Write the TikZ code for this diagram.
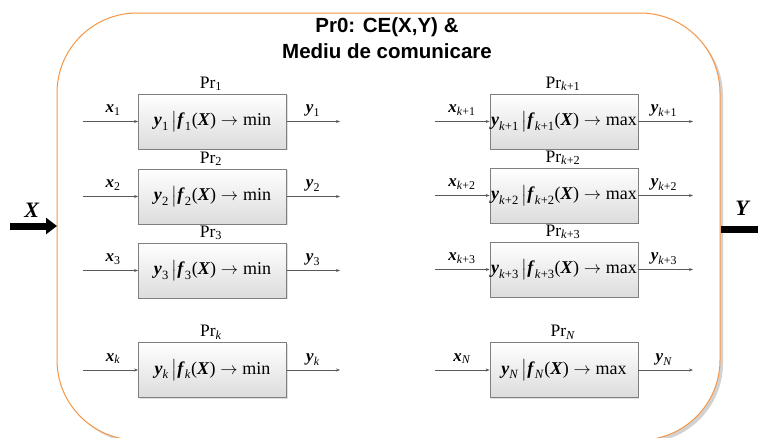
\documentclass[tikz,border=0pt]{standalone}
\usepackage{amsmath}
\usepackage{fontspec}
\setmainfont{Liberation Serif}
\newfontfamily\titlefont{Liberation Sans}
\usetikzlibrary{arrows.meta,shadows}
\definecolor{frameorange}{HTML}{F79646}
\definecolor{boxgray}{HTML}{7F7F7F}
\definecolor{boxfill}{HTML}{DCDCDC}
\definecolor{conngray}{HTML}{595959}
\newcommand{\bi}[1]{\textbf{\textit{#1}}}
\newcommand{\mineq}[2]{\makebox[0pt]{$\bi{y}_{\text{#1}}\,\big|\bi{f}_{\text{#1}}\text{(}\bi{X}\text{)}\rightarrow\text{#2}$}}
\begin{document}
\begin{tikzpicture}[x=1pt,y=-1pt,
  procbox/.style={draw=boxgray, line width=0.8pt, top color=white, bottom color=boxfill,
    minimum width=148pt, minimum height=55pt, inner sep=0pt,
    drop shadow={shadow xshift=1.2pt, shadow yshift=-1.2pt, opacity=0.25},
    font=\fontsize{18}{20}\selectfont},
  conn/.style={draw=conngray, line width=0.7pt, -{Stealth[length=4pt,width=3pt]}},
  lbl/.style={anchor=base, inner sep=0pt, font=\fontsize{17}{18}\selectfont},
  prl/.style={anchor=base, inner sep=0pt, font=\fontsize{17.5}{18}\selectfont},
  bigarrow/.style={line width=7pt, -{Triangle[length=11pt,width=16pt]}},
  biglbl/.style={anchor=base, inner sep=0pt, font=\fontsize{22}{24}\selectfont}]
\useasboundingbox (0,0) rectangle (758,437);
\fill[white] (0,0) rectangle (758,437);
\clip (0,0) rectangle (758,437);
% frame
\draw[frameorange, line width=1pt, fill=white, rounded corners=80pt,
  drop shadow={shadow xshift=3pt, shadow yshift=-3pt, opacity=0.35}]
  (57,13) rectangle (720,440);
\node[anchor=base, inner sep=0pt, font=\titlefont\bfseries\fontsize{20.5}{24}\selectfont] (t1) at (387,32) {Pr0: CE(X,Y) \&};
\node[anchor=base, inner sep=0pt, font=\titlefont\bfseries\fontsize{20.5}{24}\selectfont] (t2) at (387,58) {Mediu de comunicare};
% big arrows
\coordinate (Xs) at (10,226);
\coordinate (Xe) at (57,226);
\draw[bigarrow] (Xs) -- (Xe);
\node[biglbl] (Xl) at (32,217) {\bi{X}};
\coordinate (Ys) at (721,229);
\coordinate (Ye) at (790,229);
\draw[bigarrow] (Ys) -- (Ye);
\node[biglbl] (Yl) at (743,215) {\bi{Y}};
% left boxes
\foreach \n/\y/\s in {1/121.5/1, 2/196.5/2, 3/270.5/3, k/370/\textit{k}}{
  \node[procbox] (b\n) at (212.5,\y) {\mineq{\s}{min}};
  \node[prl] (p\n) at (211,\y-33.5) {Pr$_{\text{\s}}$};
  \coordinate (i\n) at (83,\y);
  \coordinate (o\n) at (340,\y);
  \draw[conn] (i\n) -- (b\n.west);
  \draw[conn] (b\n.east) -- (o\n);
  \node[lbl] (xl\n) at (113,\y-9) {$\bi{x}_{\text{\s}}$};
  \node[lbl] (yl\n) at (313,\y-9) {$\bi{y}_{\text{\s}}$};
}
% right boxes
\foreach \n/\y/\s in {a/121.5/\textit{k}+1, b/195.5/\textit{k}+2, c/269.5/\textit{k}+3, N/370/\textit{N}}{
  \node[procbox] (b\n) at (564,\y) {\mineq{\s}{max}};
  \node[prl] (p\n) at (563,\y-33.5) {Pr$_{\text{\s}}$};
  \coordinate (i\n) at (435,\y);
  \coordinate (o\n) at (693,\y);
  \draw[conn] (i\n) -- (b\n.west);
  \draw[conn] (b\n.east) -- (o\n);
  \node[lbl] (xl\n) at (462,\y-9) {$\bi{x}_{\text{\s}}$};
  \node[lbl] (yl\n) at (664,\y-9) {$\bi{y}_{\text{\s}}$};
}
\end{tikzpicture}
\end{document}
